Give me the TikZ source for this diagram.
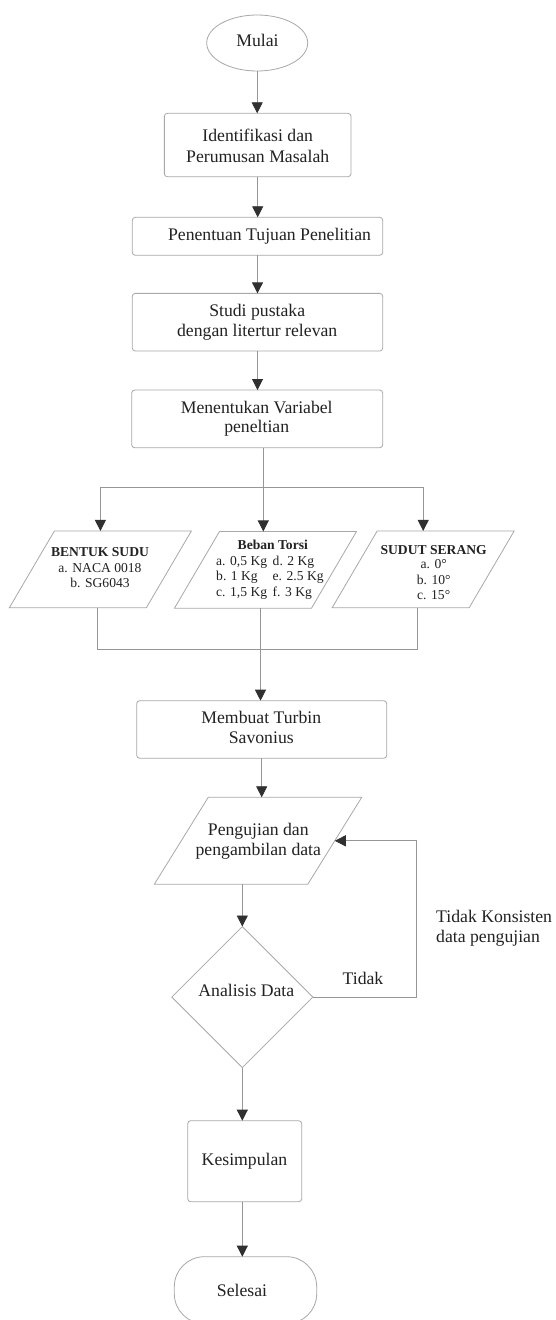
\documentclass[tikz,border=0pt]{standalone}
\usepackage{fontspec}
\setmainfont{Liberation Serif}
\usetikzlibrary{arrows.meta,shapes.geometric,calc}
\definecolor{shapegray}{HTML}{A8A8A8}
\definecolor{linegray}{HTML}{969696}
\definecolor{tipgray}{HTML}{303030}
\definecolor{txtgray}{HTML}{222222}
\begin{document}
\begin{tikzpicture}[x=1pt,y=-1pt,
  shp/.style={draw=shapegray, line width=0.8pt, inner sep=0pt, outer sep=0pt},
  boxnode/.style={shp, rectangle, rounded corners=3pt},
  invis/.style={rectangle, inner sep=0pt, outer sep=0pt, draw=none},
  conn/.style={draw=linegray, line width=0.8pt},
  arr/.style={conn, -{Triangle[length=11pt,width=11pt,color=tipgray]}},
  txt/.style={font=\fontsize{17.7}{20}\selectfont, text=txtgray, inner sep=0pt, anchor=base},
  stxt/.style={font=\fontsize{13.6}{15.4}\selectfont, text=txtgray, inner sep=0pt, anchor=base},
]
\useasboundingbox[fill=white] (0,0) rectangle (555,1320);

% shapes
\node[shp, ellipse, minimum width=101pt, minimum height=56pt] (m) at (257.2,43) {};
\node[boxnode, minimum width=186.7pt, minimum height=63.4pt] (b1) at (257.7,145) {};
\node[boxnode, minimum width=250.4pt, minimum height=38pt] (b2) at (257.5,236.3) {};
\node[boxnode, minimum width=250.4pt, minimum height=57.7pt] (b3) at (257.5,322.2) {};
\node[boxnode, minimum width=251pt, minimum height=57.7pt] (b4) at (257.2,418.9) {};
\node[invis, minimum width=137pt, minimum height=76.7pt] (p1) at (100.4,569.3) {};
\node[invis, minimum width=137pt, minimum height=76.7pt] (p2) at (265.5,569.8) {};
\node[invis, minimum width=137pt, minimum height=76.7pt] (p3) at (423.2,569.3) {};
\node[boxnode, minimum width=250pt, minimum height=57.6pt] (b5) at (261.7,729.5) {};
\node[invis, minimum width=153.5pt, minimum height=87pt] (pg) at (258,840.8) {};
\node[shp, diamond, aspect=1, minimum width=141pt, minimum height=141pt] (d) at (242.3,997) {};
\node[boxnode, minimum width=114pt, minimum height=81pt] (k) at (244.7,1161.2) {};
\node[shp, rectangle, rounded corners=30pt, minimum width=142.4pt, minimum height=67pt] (s) at (245.5,1290.2) {};

\foreach \n/\sl in {p1/22.5, p2/22.5, p3/22.5, pg/27}{
  \draw[shp] ([xshift=\sl pt]\n.north west) -- ([xshift=\sl pt]\n.north east)
    -- ([xshift=-\sl pt]\n.south east) -- ([xshift=-\sl pt]\n.south west) -- cycle;
}

% texts (one node per printed line, placed on its baseline)
\node[txt] (tm) at (257.5,46.7) {Mulai};
\node[txt] (t1a) at (257.7,141.7) {Identifikasi dan};
\node[txt] (t1b) at (257.7,162.3) {Perumusan Masalah};
\node[txt] (t2) at (269.5,240.7) {Penentuan Tujuan Penelitian};
\node[txt] (t3a) at (257.2,316.7) {Studi pustaka};
\node[txt] (t3b) at (257.2,336.7) {dengan litertur relevan};
\node[txt] (t4a) at (256.7,413.3) {Menentukan Variabel};
\node[txt] (t4b) at (256.7,432.9) {peneltian};
\node[stxt] (tp1a) at (100,556.7) {\textbf{BENTUK SUDU}};
\node[stxt] (tp1b) at (100,572.2) {a. NACA 0018};
\node[stxt] (tp1c) at (100,587.7) {b. SG6043};
\node[stxt] (tp2) at (272.8,549) {\textbf{Beban Torsi}};
\node[stxt, anchor=base west] (tp2a) at (216,565.7) {a. 0,5 Kg};
\node[stxt, anchor=base west] (tp2b) at (216,580.9) {b. 1 Kg};
\node[stxt, anchor=base west] (tp2c) at (216,596.1) {c. 1,5 Kg};
\node[stxt, anchor=base west] (tp2d) at (272.5,565.7) {d. 2 Kg};
\node[stxt, anchor=base west] (tp2e) at (272.5,580.9) {e. 2.5 Kg};
\node[stxt, anchor=base west] (tp2f) at (272.5,596.1) {f. 3 Kg};
\node[stxt] (tp3a) at (433.7,554) {\textbf{SUDUT SERANG}};
\node[stxt] (tp3b) at (433.7,568.7) {a. 0°};
\node[stxt] (tp3c) at (433.7,584.1) {b. 10°};
\node[stxt] (tp3d) at (433.7,599.5) {c. 15°};
\node[txt] (t5a) at (261.3,723.3) {Membuat Turbin};
\node[txt] (t5b) at (261.3,743.3) {Savonius};
\node[txt] (tpga) at (258.3,835) {Pengujian dan};
\node[txt] (tpgb) at (258.3,855) {pengambilan data};
\node[txt] (td) at (246.3,996.7) {Analisis Data};
\node[txt] (tk) at (244.5,1165) {Kesimpulan};
\node[txt] (ts) at (242,1296.7) {Selesai};
\node[txt] (ltidak) at (363,984) {Tidak};
\node[txt, anchor=base west] (lkonsa) at (436,922.7) {Tidak Konsisten};
\node[txt, anchor=base west] (lkonsb) at (436,942.3) {data pengujian};

% connectors
\draw[arr] (m.south) -- (m.south |- b1.north);
\draw[arr] (b1.south) -- (b1.south |- b2.north);
\draw[arr] (b2.south) -- (b2.south |- b3.north);
\draw[arr] (b3.south) -- (b3.south |- b4.north);
\coordinate (br) at (263.3,487.3);
\draw[arr] (b4.south -| br) -- (br |- p2.north);
\draw[conn] (br -| p1.north) -- (br -| p3.north);
\draw[arr] (br -| p1.north) -- (p1.north);
\draw[arr] (br -| p3.north) -- (p3.north);
\coordinate (mg) at (260.5,649.3);
\coordinate (p1o) at ([xshift=-2.7pt]p1.south);
\coordinate (p3o) at ([xshift=-5.9pt]p3.south);
\draw[conn] (p1o) -- (p1o |- mg) -- (p3o |- mg) -- (p3o);
\draw[arr] (p2.south -| mg) -- (mg |- b5.north);
\draw[arr] (b5.south) -- (b5.south |- pg.north);
\draw[arr] (pg.south -| d.north) -- (d.north);
\draw[arr] (d.south) -- (d.south |- k.north);
\draw[arr] (d.south |- k.south) -- (d.south |- s.north);
\coordinate (fb) at (416.7,997);
\draw[arr] (d.east) -- (fb) |- (pg.east);
\end{tikzpicture}
\end{document}
